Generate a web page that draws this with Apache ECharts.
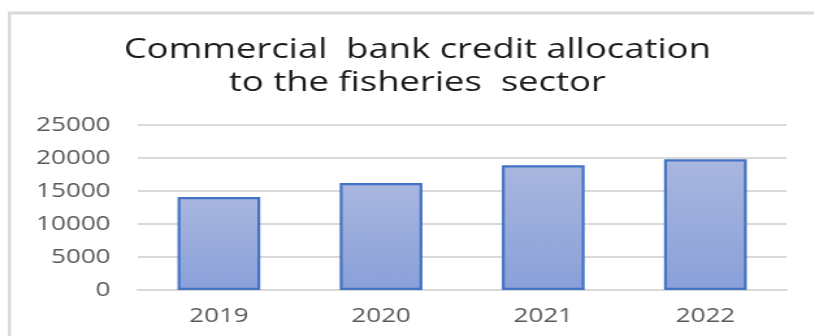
<!DOCTYPE html>
<html>
<head>
<meta charset="utf-8">
<script src="https://cdn.jsdelivr.net/npm/echarts@6/dist/echarts.min.js"></script>
<style>
  html, body { margin: 0; padding: 0; background: #fff; overflow: hidden; }
  /* the reference picture is stretched sideways, so the canvas is too */
  #chart { width: 626px; height: 336px; transform: scaleX(1.3); transform-origin: 0 0; }
</style>
</head>
<body>
<div id="chart"></div>
<script>
const years = ['2019', '2020', '2021', '2022'];
const credit = [14100, 16200, 18900, 19800];
const yTicks = [0, 5000, 10000, 15000, 20000, 25000];

const chart = echarts.init(document.getElementById('chart'));

chart.setOption({
  animation: false,
  textStyle: { fontFamily: 'Open Sans' },
  title: {
    text: 'Commercial  bank credit allocation\nto the fisheries  sector',
    left: 316,
    top: 29,
    textAlign: 'center',
    textStyle: {
      fontFamily: 'Open Sans',
      fontSize: 28,
      fontWeight: 'normal',
      color: '#1a1a1a',
      lineHeight: 33
    }
  },
  // chart area frame, only the left and top edges show
  graphic: [
    { type: 'line', shape: { x1: 7.3, y1: 13, x2: 7.3, y2: 336 }, style: { stroke: '#d9d9d9', lineWidth: 2.4 } },
    { type: 'line', shape: { x1: 6, y1: 13, x2: 626, y2: 13 }, style: { stroke: '#d9d9d9', lineWidth: 3 } }
  ],
  grid: { left: 106, right: 21, top: 125, bottom: 46 },
  xAxis: {
    type: 'category',
    data: years,
    axisLine: { show: true, lineStyle: { color: '#d9d9d9', width: 2 } },
    axisTick: { show: false },
    axisLabel: { color: '#595959', fontSize: 20, margin: 16 }
  },
  yAxis: {
    type: 'value',
    min: yTicks[0],
    max: yTicks[yTicks.length - 1],
    interval: yTicks[1] - yTicks[0],
    axisLine: { show: false },
    axisTick: { show: false },
    axisLabel: { color: '#595959', fontSize: 20, margin: 21, formatter: v => String(v) },
    splitLine: { lineStyle: { color: '#d9d9d9', width: 2 } }
  },
  series: [{
    type: 'bar',
    data: credit,
    barWidth: '51%',
    itemStyle: {
      color: new echarts.graphic.LinearGradient(0, 0, 0, 1, [
        { offset: 0, color: '#a9b7df' },
        { offset: 1, color: '#8aa0d9' }
      ]),
      borderColor: '#4472c4',
      borderWidth: 2.2
    }
  }]
});
</script>
</body>
</html>
